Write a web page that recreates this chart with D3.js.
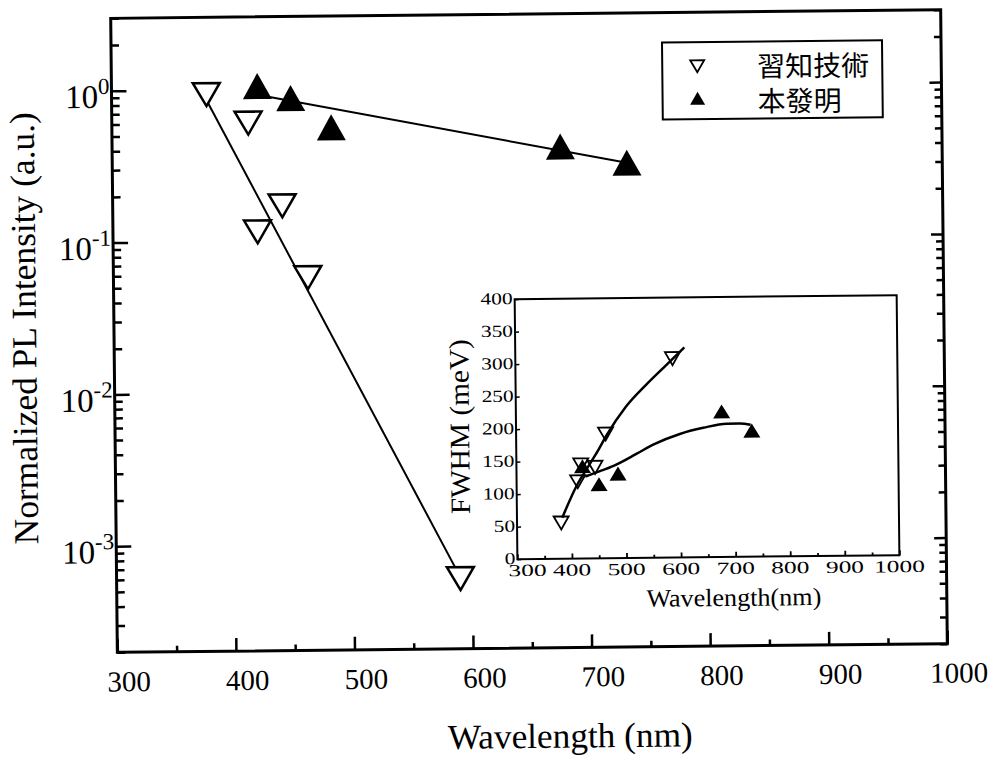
<!DOCTYPE html>
<meta charset="utf-8">
<style>
    body { margin: 0; background: #fff; }
    svg { display: block; }
    text { font-family: "Liberation Serif", "Times New Roman", serif; fill: #000; }
    .cjk { font-family: "Noto Sans CJK TC", sans-serif; }
</style>
<svg width="996" height="763"></svg>
<script src="https://d3js.org/d3.v7.min.js"></script>
<script>
    // main panel: normalized PL intensity vs wavelength
    var legacyWl = [380, 415, 422, 443, 464, 590];
    var legacyPL = [0.93, 0.60, 0.115, 0.17, 0.057, 0.00058];
    var inventWl = [423, 451, 485, 678, 734];
    var inventPL = [1.05, 0.87, 0.555, 0.40, 0.31];

    // straight fits (log scale)
    var legacyFitWl = [379, 585.5];
    var legacyFitPL = [0.886, 0.00069];
    var inventFitWl = [423, 734];
    var inventFitPL = [0.92, 0.309];

    // inset: FWHM vs wavelength
    var insetLegacyWl = [381, 412, 418, 444, 464, 588];
    var insetLegacyFWHM = [55, 118, 144, 140, 191, 306];
    var insetInventWl = [421, 451, 486, 677, 732];
    var insetInventFWHM = [142, 114, 130, 224, 194];

    var insetLegacyCurveWl = [383, 410, 432, 450, 465, 502, 539, 575, 610];
    var insetLegacyCurveFWHM = [63, 112, 142, 166, 188, 233, 266, 295, 323];
    var insetInventCurveWl = [426, 453, 478, 520, 551, 600, 643, 686, 710, 730];
    var insetInventCurveFWHM = [126, 134, 142, 160, 174, 190, 199, 205, 205, 203];

    var seriesNames = ["習知技術", "本發明"];
    var xTicks = [300, 400, 500, 600, 700, 800, 900, 1000];
    var xMinor = [350, 450, 550, 650, 750, 850, 950];
    var yDecades = [1, 0.1, 0.01, 0.001];
    var insetYTicks = [0, 50, 100, 150, 200, 250, 300, 350, 400];

    var svg = d3.select("svg");
    // the scanned figure sits a little tilted
    var root = svg.append("g").attr("transform", "rotate(-0.6 530 330)");

    var x = d3.scaleLinear().domain([300, 1000]).range([114, 944]);
    var y = d3.scaleLog().domain([2e-4, 3]).range([648, 14]);

    function downTri(w, h) {
        return "M" + (-w / 2) + "," + (-h / 2) + "L" + (w / 2) + "," + (-h / 2) + "L0," + (h / 2) + "Z";
    }
    function upTri(w, h) {
        return "M" + (-w / 2) + "," + (h / 2) + "L" + (w / 2) + "," + (h / 2) + "L0," + (-h / 2) + "Z";
    }

    var yMinor = [];
    for (var e = -4; e <= 0; e++) {
        for (var m = 2; m <= 9; m++) {
            var v = m * Math.pow(10, e);
            if (v >= 2e-4 && v <= 3) yMinor.push(v);
        }
    }

    function styleAxis(g, w) {
        g.select(".domain").remove();
        g.selectAll(".tick line").attr("stroke", "#000").attr("stroke-width", w);
    }

    // bottom axis
    var xAxisG = root.append("g").attr("transform", "translate(0,648)")
        .call(d3.axisBottom(x).tickValues(xTicks).tickSize(-13).tickFormat(d3.format("d")));
    styleAxis(xAxisG, 2.5);
    xAxisG.selectAll("text")
        .attr("y", 39).attr("dy", null).attr("dx", 11)
        .attr("font-size", 29).attr("font-family", "Liberation Serif");
    root.append("g").attr("transform", "translate(0,648)")
        .call(d3.axisBottom(x).tickValues(xMinor).tickSize(-6).tickFormat(""))
        .call(styleAxis, 2.5);

    // left axis
    root.append("g").attr("transform", "translate(114,0)")
        .call(d3.axisLeft(y).tickValues(yDecades).tickSize(-15).tickFormat(""))
        .call(styleAxis, 2.5);
    root.append("g").attr("transform", "translate(114,0)")
        .call(d3.axisLeft(y).tickValues(yMinor).tickSize(-8).tickFormat(""))
        .call(styleAxis, 2.5);

    // right axis
    root.append("g").attr("transform", "translate(944,0)")
        .call(d3.axisRight(y).tickValues(yDecades).tickSize(-12).tickFormat(""))
        .call(styleAxis, 2.5);
    root.append("g").attr("transform", "translate(944,0)")
        .call(d3.axisRight(y).tickValues(yMinor).tickSize(-7).tickFormat(""))
        .call(styleAxis, 2.5);

    // frame
    root.append("rect")
        .attr("x", 114).attr("y", 14).attr("width", 830).attr("height", 634)
        .attr("fill", "none").attr("stroke", "#000").attr("stroke-width", 3);

    // y labels 10^n
    yDecades.forEach(function (d) {
        var p = Math.round(Math.log10(d));
        var t = root.append("text")
            .attr("x", 112).attr("y", y(d) + 17)
            .attr("text-anchor", "end").attr("font-size", 33);
        t.append("tspan").text("10");
        t.append("tspan").attr("dy", -14).attr("font-size", 23).text(String(p));
    });

    // titles
    root.append("text")
        .attr("x", 566).attr("y", 748)
        .attr("text-anchor", "middle").attr("font-size", 35)
        .attr("textLength", 245).attr("lengthAdjust", "spacingAndGlyphs")
        .text("Wavelength (nm)");
    root.append("text")
        .attr("transform", "translate(36,323) rotate(-90)")
        .attr("text-anchor", "middle").attr("font-size", 35)
        .attr("textLength", 432).attr("lengthAdjust", "spacingAndGlyphs")
        .text("Normalized PL Intensity (a.u.)");

    // fit lines
    var line = d3.line().x(function (d) { return x(d[0]); }).y(function (d) { return y(d[1]); });
    root.append("path")
        .datum(d3.zip(legacyFitWl, legacyFitPL))
        .attr("d", line).attr("fill", "none").attr("stroke", "#000").attr("stroke-width", 2);
    root.append("path")
        .datum(d3.zip(inventFitWl, inventFitPL))
        .attr("d", line).attr("fill", "none").attr("stroke", "#000").attr("stroke-width", 2);

    // markers
    root.append("g").selectAll("path")
        .data(d3.zip(legacyWl, legacyPL))
        .enter().append("path")
        .attr("transform", function (d) { return "translate(" + x(d[0]) + "," + y(d[1]) + ")"; })
        .attr("d", downTri(27, 23))
        .attr("fill", "#fff").attr("stroke", "#000").attr("stroke-width", 2.5);
    root.append("g").selectAll("path")
        .data(d3.zip(inventWl, inventPL))
        .enter().append("path")
        .attr("transform", function (d) { return "translate(" + x(d[0]) + "," + y(d[1]) + ")"; })
        .attr("d", upTri(29, 26))
        .attr("fill", "#000");

    // legend
    var leg = root.append("g");
    leg.append("rect")
        .attr("x", 665).attr("y", 44).attr("width", 220).attr("height", 77)
        .attr("fill", "#fff").attr("stroke", "#000").attr("stroke-width", 2);
    leg.append("path").attr("transform", "translate(700,68)")
        .attr("d", downTri(14, 12)).attr("fill", "#fff").attr("stroke", "#000").attr("stroke-width", 1.8);
    leg.append("path").attr("transform", "translate(700,100)")
        .attr("d", upTri(15, 13)).attr("fill", "#000");
    leg.append("text").attr("class", "cjk").attr("x", 760).attr("y", 79)
        .attr("font-size", 28).text(seriesNames[0]);
    leg.append("text").attr("class", "cjk").attr("x", 760).attr("y", 114)
        .attr("font-size", 28).text(seriesNames[1]);

    // ---------- inset ----------
    var ix = d3.scaleLinear().domain([300, 1000]).range([515, 897]);
    var iy = d3.scaleLinear().domain([0, 400]).range([559, 299]);
    var inset = root.append("g");

    inset.append("rect")
        .attr("x", 515).attr("y", 299).attr("width", 382).attr("height", 260)
        .attr("fill", "#fff").attr("stroke", "#000").attr("stroke-width", 2);

    inset.append("g").attr("transform", "translate(0,559)")
        .call(d3.axisBottom(ix).tickValues(xTicks).tickSize(-5).tickFormat(""))
        .call(styleAxis, 1.8);
    inset.append("g").attr("transform", "translate(0,559)")
        .call(d3.axisBottom(ix).tickValues(xMinor).tickSize(-3).tickFormat(""))
        .call(styleAxis, 1.8);
    inset.append("g").attr("transform", "translate(515,0)")
        .call(d3.axisLeft(iy).tickValues(insetYTicks).tickSize(-4).tickFormat(""))
        .call(styleAxis, 1.5);

    inset.append("g").selectAll("text")
        .data(xTicks).enter().append("text")
        .attr("x", function (d, i) { return ix(d) + (i === 0 ? 10 : 0); })
        .attr("y", 576)
        .attr("text-anchor", "middle").attr("font-size", 17)
        .attr("textLength", function (d) { return 12.7 * String(d).length; })
        .attr("lengthAdjust", "spacingAndGlyphs")
        .text(function (d) { return d; });
    inset.append("g").selectAll("text")
        .data(insetYTicks).enter().append("text")
        .attr("x", 513).attr("y", function (d) { return iy(d) + 5; })
        .attr("text-anchor", "end").attr("font-size", 17)
        .attr("textLength", function (d) { return 10.7 * String(d).length; })
        .attr("lengthAdjust", "spacingAndGlyphs")
        .text(function (d) { return d; });

    inset.append("text")
        .attr("x", 731).attr("y", 608)
        .attr("text-anchor", "middle").attr("font-size", 25)
        .attr("textLength", 175).attr("lengthAdjust", "spacingAndGlyphs")
        .text("Wavelength(nm)");
    inset.append("text")
        .attr("transform", "translate(468,426) rotate(-90)")
        .attr("text-anchor", "middle").attr("font-size", 28)
        .attr("textLength", 175).attr("lengthAdjust", "spacingAndGlyphs")
        .text("FWHM (meV)");

    var curve = d3.line()
        .x(function (d) { return ix(d[0]); })
        .y(function (d) { return iy(d[1]); })
        .curve(d3.curveMonotoneX);
    inset.append("path")
        .datum(d3.zip(insetLegacyCurveWl, insetLegacyCurveFWHM))
        .attr("d", curve).attr("fill", "none").attr("stroke", "#000").attr("stroke-width", 2.5);
    inset.append("path")
        .datum(d3.zip(insetInventCurveWl, insetInventCurveFWHM))
        .attr("d", curve).attr("fill", "none").attr("stroke", "#000").attr("stroke-width", 2.5);

    inset.append("g").selectAll("path")
        .data(d3.zip(insetInventWl, insetInventFWHM))
        .enter().append("path")
        .attr("transform", function (d) { return "translate(" + ix(d[0]) + "," + iy(d[1]) + ")"; })
        .attr("d", upTri(17, 14))
        .attr("fill", "#000");
    inset.append("g").selectAll("path")
        .data(d3.zip(insetLegacyWl, insetLegacyFWHM))
        .enter().append("path")
        .attr("transform", function (d) { return "translate(" + ix(d[0]) + "," + iy(d[1]) + ")"; })
        .attr("d", downTri(15, 13))
        .attr("fill", "none").attr("stroke", "#000").attr("stroke-width", 1.8);
</script>
